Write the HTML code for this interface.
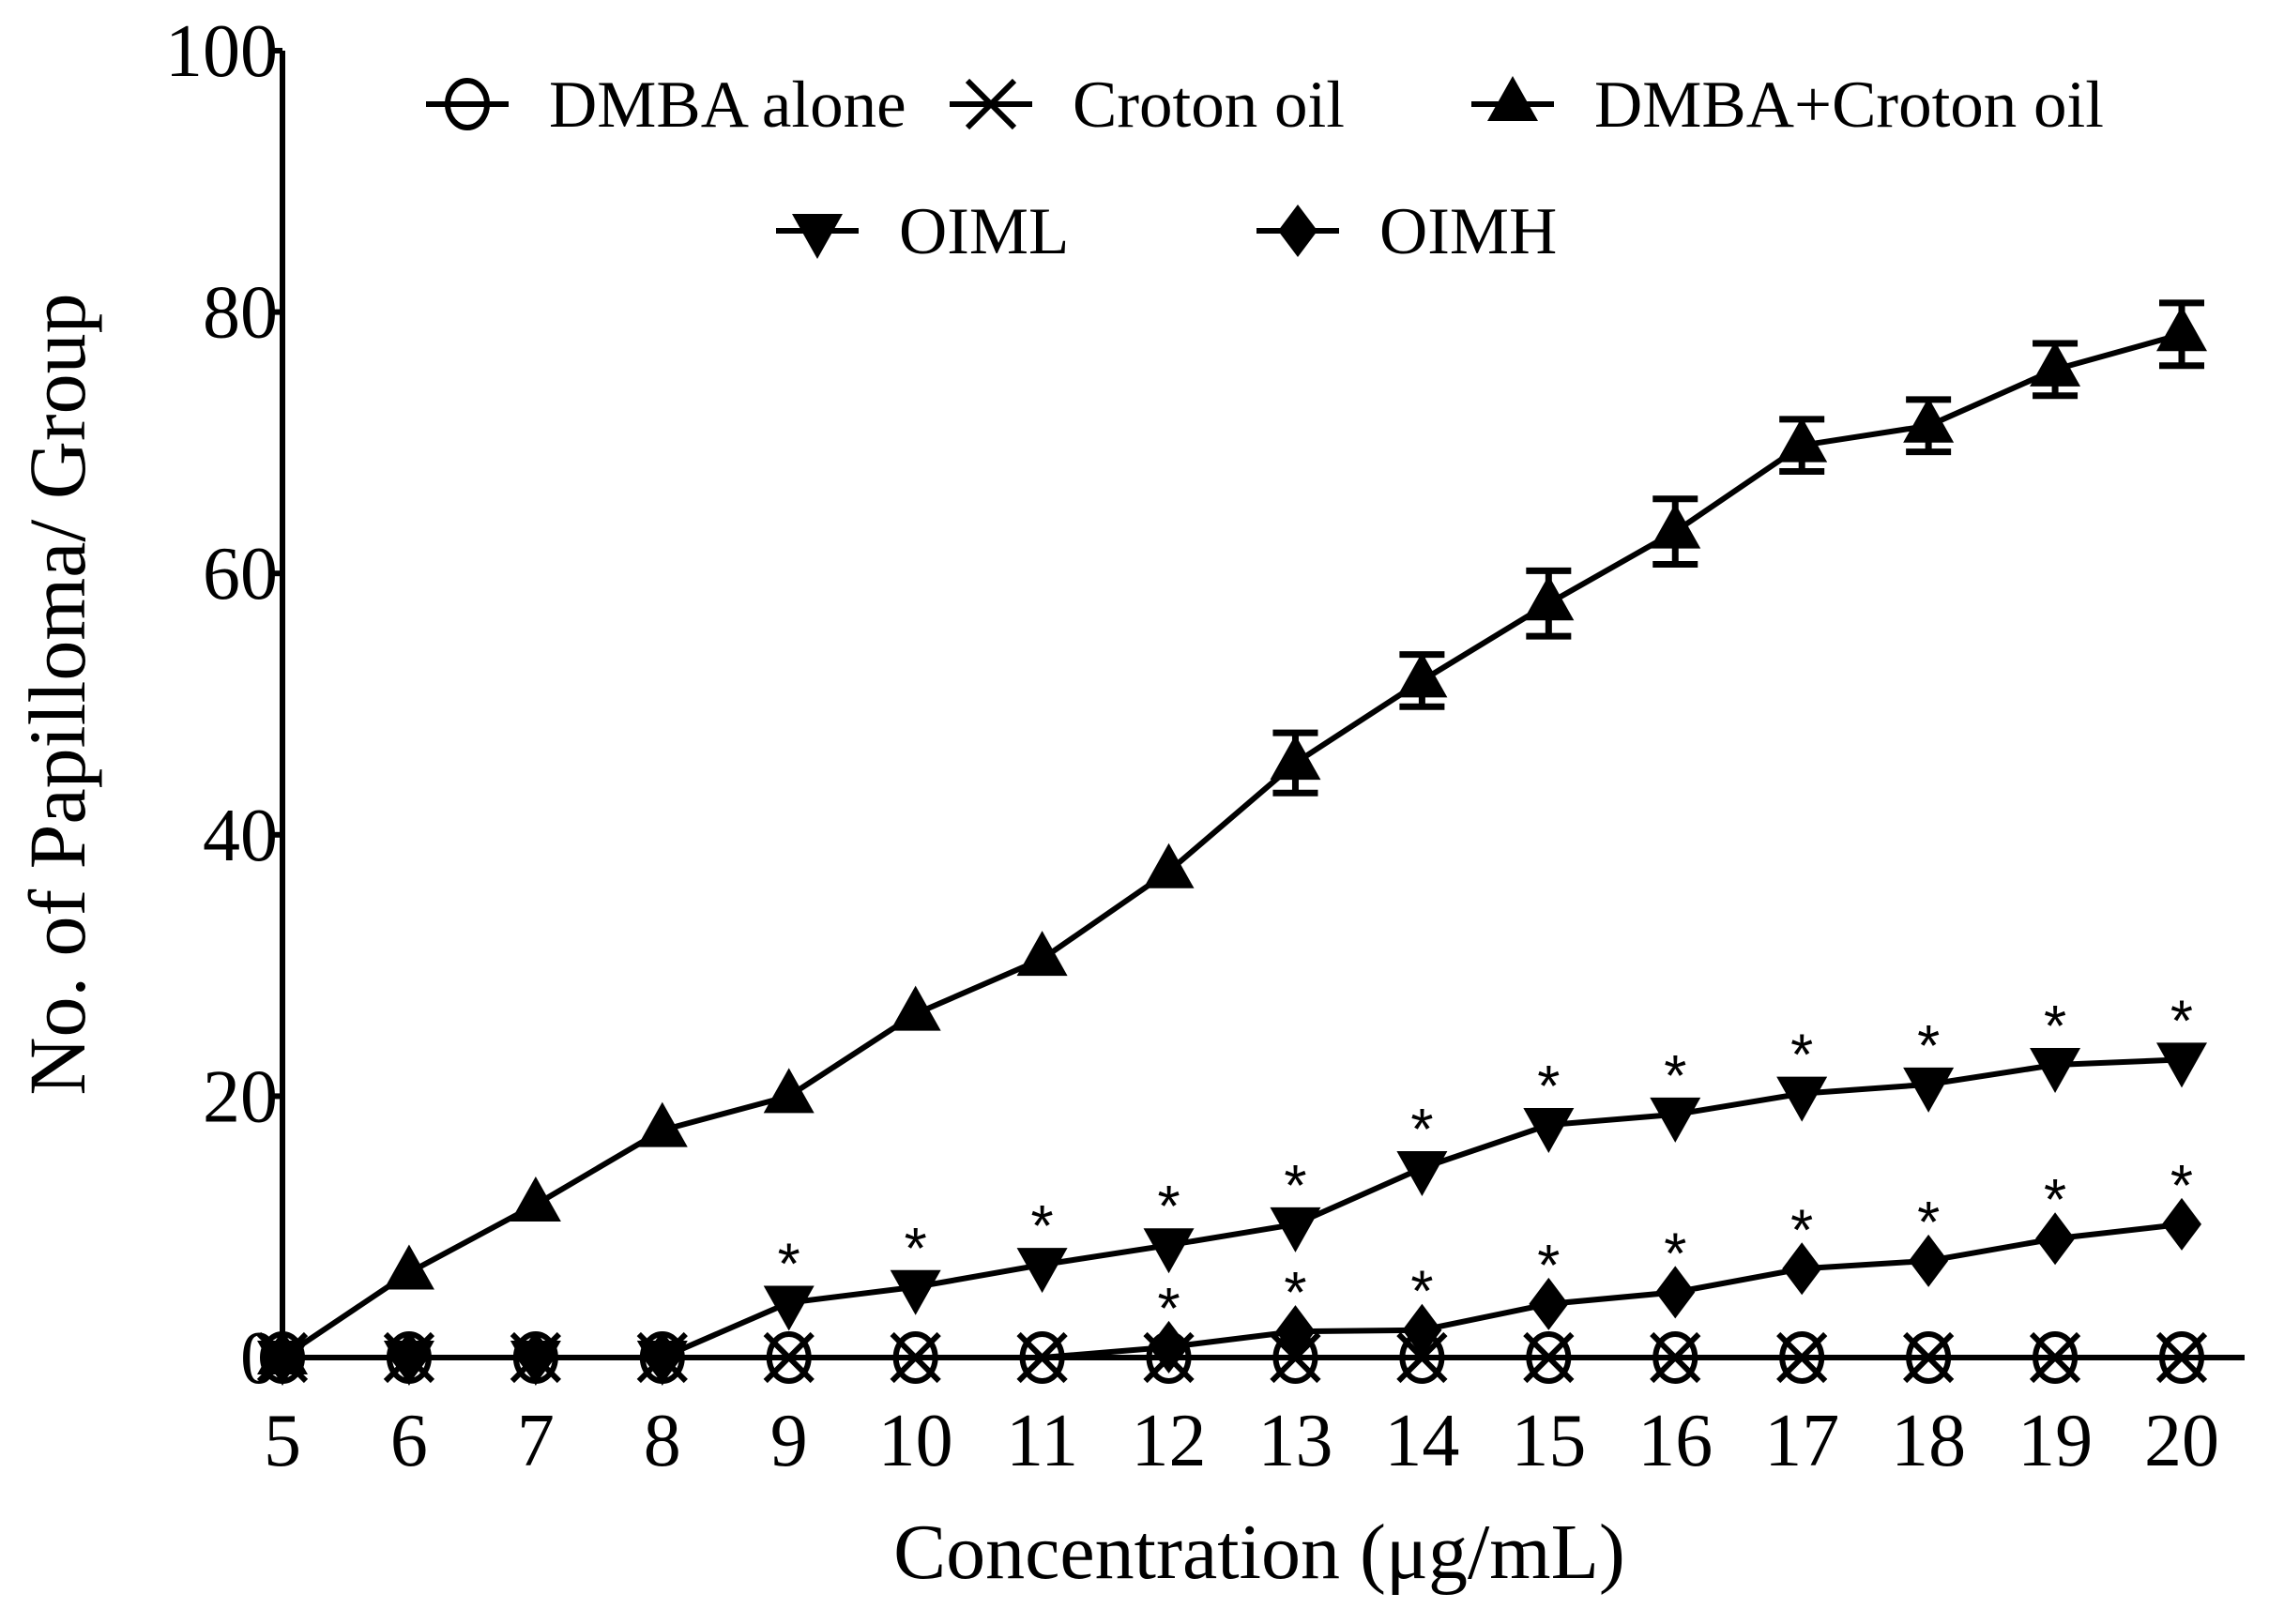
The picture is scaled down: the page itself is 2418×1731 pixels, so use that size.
<!DOCTYPE html>
<html><head><meta charset="utf-8"><style>
html,body{margin:0;padding:0;background:#fff;}
svg{display:block;font-family:"Liberation Serif",serif;}
</style></head><body>
<svg id="chart" width="2418" height="1731" viewBox="0 0 2418 1731" xmlns="http://www.w3.org/2000/svg">
<g id="axes"></g>
<g id="series"></g>
<g id="legend"></g>
<text x="0" y="0" transform="translate(90,740) rotate(-90)" text-anchor="middle" font-size="86">No. of Papilloma/ Group</text>
<text x="1342" y="1682" text-anchor="middle" font-size="84">Concentration (μg/mL)</text>
</svg>
<script>
const categories = [5,6,7,8,9,10,11,12,13,14,15,16,17,18,19,20];
const dmbaAlone = [0,0,0,0,0,0,0,0,0,0,0,0,0,0,0,0];
const crotonOil = [0,0,0,0,0,0,0,0,0,0,0,0,0,0,0,0];
const dmbaCroton = [0,6.5,11.7,17.4,20,26.3,30.5,37.2,45.5,51.8,57.7,63.2,69.8,71.3,75.6,78.3];
const dmbaCrotonErr = [0,0,0,0,0,0,0,0,2.3,2,2.5,2.5,2,2,2,2.4];
const oiml = [0,0,0,0,4.2,5.4,7.1,8.6,10.2,14.5,17.8,18.6,20.2,20.9,22.4,22.8];
const oimh = [0,0,0,0,0,0,0,0.8,2,2.1,4.1,5,6.8,7.4,9.1,10.2];
const oimlStar = [0,0,0,0,1,1,1,1,1,1,1,1,1,1,1,1];
const oimhStar = [0,0,0,0,0,0,0,1,1,1,1,1,1,1,1,1];
const yTicks = [0,20,40,60,80,100];

const NS="http://www.w3.org/2000/svg";
const X0=301,X1=2325,Y0=1447,Y1=54;
const xs=v=>X0+(v-5)*(X1-X0)/15;
const ys=v=>Y0-v*(Y0-Y1)/100;
function mk(tag,attrs,parent){const e=document.createElementNS(NS,tag);for(const k in attrs)e.setAttribute(k,attrs[k]);parent.appendChild(e);return e;}
const axes=document.getElementById('axes'),ser=document.getElementById('series'),leg=document.getElementById('legend');

let a=mk('line',{x1:X0,y1:Y1,x2:X0,y2:Y0,stroke:'#000','stroke-width':6},axes);

a=mk('line',{x1:X0,y1:Y0,x2:2392,y2:Y0,stroke:'#000','stroke-width':6},axes);

yTicks.forEach(t=>{
  const l=mk('line',{x1:X0-14,y1:ys(t),x2:X0,y2:ys(t),stroke:'#000','stroke-width':6},axes);
  
  const tx=mk('text',{x:X0-5,y:ys(t)+27,'text-anchor':'end','font-size':80},axes);
  tx.textContent=t;
  
});
categories.forEach(c=>{
  const tx=mk('text',{x:xs(c),y:1562,'text-anchor':'middle','font-size':80},axes);
  tx.textContent=c;
  
});

function marker(type,cx,cy,parent,s){
  s=s||1;let e;
  if(type==='circle'){e=mk('ellipse',{cx,cy,rx:21*s,ry:25*s,fill:'none',stroke:'#000','stroke-width':6},parent);}
  else if(type==='x'){e=mk('path',{d:`M${cx-25*s},${cy-25*s}L${cx+25*s},${cy+25*s}M${cx-25*s},${cy+25*s}L${cx+25*s},${cy-25*s}`,stroke:'#000','stroke-width':6,fill:'none'},parent);}
  else if(type==='up'){e=mk('path',{d:`M${cx},${cy-30*s}L${cx+27*s},${cy+18*s}L${cx-27*s},${cy+18*s}Z`,fill:'#000'},parent);}
  else if(type==='down'){e=mk('path',{d:`M${cx},${cy+30*s}L${cx+27*s},${cy-18*s}L${cx-27*s},${cy-18*s}Z`,fill:'#000'},parent);}
  else {e=mk('path',{d:`M${cx},${cy-28*s}L${cx+21*s},${cy}L${cx},${cy+28*s}L${cx-21*s},${cy}Z`,fill:'#000'},parent);}
  return e;
}
function line(vals,name){
  const d=vals.map((v,i)=>(i?'L':'M')+xs(categories[i])+','+ys(v)).join('');
  const p=mk('path',{d,fill:'none',stroke:'#000','stroke-width':6},ser);
  
}
line(dmbaAlone,'dmba-alone-line');line(crotonOil,'croton-oil-line');
line(dmbaCroton,'dmba-croton-line');line(oiml,'oiml-line');line(oimh,'oimh-line');
dmbaCroton.forEach((v,i)=>{
  const e=dmbaCrotonErr[i];if(!e)return;
  const x=xs(categories[i]);
  const g=mk('path',{d:`M${x},${ys(v+e)}L${x},${ys(v-e)}M${x-24},${ys(v+e)}L${x+24},${ys(v+e)}M${x-24},${ys(v-e)}L${x+24},${ys(v-e)}`,stroke:'#000','stroke-width':7,fill:'none'},ser);
  
});
const sets=[[dmbaCroton,'up','dmba-croton-point'],[oiml,'down','oiml-point'],[oimh,'diamond','oimh-point']];
sets.forEach(([vals,type,name])=>{
  vals.forEach((v,i)=>{
    if(type!=='up'&&v===0&&categories[i]>8)return;
    const m=marker(type,xs(categories[i]),ys(v),ser);
    
  });
});
dmbaAlone.forEach((v,i)=>{
  const m=marker('circle',xs(categories[i]),ys(v),ser);
  
  const n=marker('x',xs(categories[i]),ys(crotonOil[i]),ser);
  
});
function stars(flags,vals,off){
  flags.forEach((f,i)=>{if(!f)return;
    const t=mk('text',{x:xs(categories[i]),y:ys(vals[i])-off,'text-anchor':'middle','font-size':62,'font-family':'Liberation Sans, sans-serif'},ser);
    t.textContent='*';
    
  });
}
stars(oimlStar,oiml,20);stars(oimhStar,oimh,20);

const legItems=[['circle','DMBA alone',498,111],['x','Croton oil',1056,111],['up','DMBA+Croton oil',1612,111],['down','OIML',871,246],['diamond','OIMH',1383,246]];
legItems.forEach(([type,label,cx,cy])=>{
  const g=mk('g',{},leg);
  
  mk('line',{x1:cx-44,y1:cy,x2:cx+44,y2:cy,stroke:'#000','stroke-width':6},g);
  marker(type,cx,cy,g);
  const t=mk('text',{x:cx+87,y:cy+24,'font-size':71},g);
  t.textContent=label;
});
</script>
</body></html>
